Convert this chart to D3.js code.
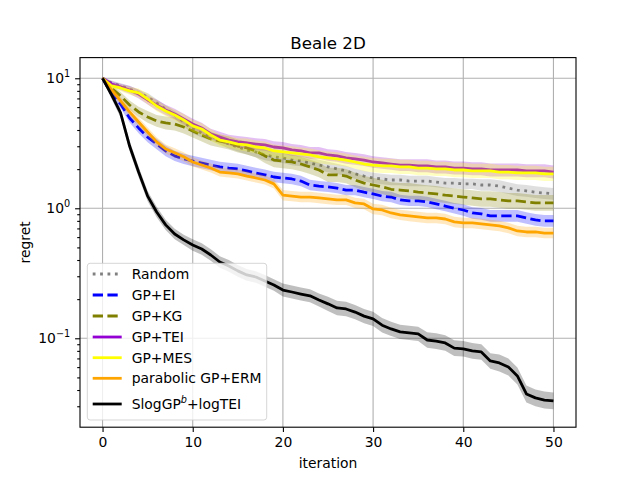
<!DOCTYPE html>
<html>
<head>
<meta charset="utf-8">
<script src="https://cdn.jsdelivr.net/npm/d3@7"></script>
<style>
  body { margin: 0; background: #fff; }
  svg { font-family: "DejaVu Sans", sans-serif; }
</style>
</head>
<body>
<script>
// iterations 0..50
var iterations = d3.range(0, 51);

// mean regret per method
var randomMean = [
  10.0, 9.20, 8.73, 8.27, 7.71, 7.18, 6.45, 5.80, 5.22, 4.61,
  4.07, 3.79, 3.60, 3.35, 3.12, 2.96, 2.81, 2.71, 2.57, 2.49,
  2.44, 2.35, 2.31, 2.23, 2.15, 2.08, 2.01, 1.94, 1.84, 1.77,
  1.71, 1.68, 1.65, 1.65, 1.62, 1.62, 1.62, 1.59, 1.56, 1.56,
  1.54, 1.54, 1.51, 1.51, 1.48, 1.43, 1.38, 1.36, 1.33, 1.31,
  1.29];
var eiMean = [
  10.0, 7.57, 6.34, 4.95, 4.15, 3.53, 3.12, 2.76, 2.53, 2.40,
  2.31, 2.23, 2.15, 2.08, 2.04, 2.01, 1.94, 1.87, 1.81, 1.74,
  1.71, 1.68, 1.62, 1.51, 1.48, 1.46, 1.43, 1.38, 1.38, 1.33,
  1.29, 1.24, 1.22, 1.16, 1.14, 1.14, 1.12, 1.08, 1.04, 1.00,
  0.970, 0.920, 0.904, 0.873, 0.873, 0.873, 0.873, 0.842, 0.813, 0.799,
  0.799];
var kgMean = [
  10.0, 8.42, 7.31, 6.23, 5.51, 5.04, 4.70, 4.53, 4.45, 4.22,
  3.93, 3.66, 3.41, 3.29, 3.18, 3.01, 2.91, 2.76, 2.53, 2.35,
  2.31, 2.27, 2.19, 2.08, 1.97, 1.81, 1.81, 1.77, 1.65, 1.56,
  1.51, 1.46, 1.40, 1.38, 1.36, 1.33, 1.31, 1.29, 1.26, 1.24,
  1.22, 1.20, 1.18, 1.18, 1.16, 1.14, 1.14, 1.12, 1.10, 1.10,
  1.10];
var teiMean = [
  10.0, 9.04, 8.58, 8.13, 7.57, 6.81, 6.23, 5.70, 5.31, 4.86,
  4.45, 4.15, 3.73, 3.53, 3.35, 3.24, 3.18, 3.12, 3.07, 2.96,
  2.91, 2.81, 2.76, 2.67, 2.67, 2.57, 2.53, 2.44, 2.40, 2.35,
  2.27, 2.23, 2.19, 2.15, 2.15, 2.12, 2.12, 2.08, 2.08, 2.04,
  2.04, 2.01, 2.01, 1.97, 1.97, 1.97, 1.97, 1.94, 1.94, 1.94,
  1.90];
var mesMean = [
  10.0, 8.73, 8.42, 7.99, 7.71, 6.93, 6.12, 5.60, 5.22, 4.78,
  4.30, 4.07, 3.66, 3.35, 3.24, 3.12, 3.07, 2.96, 2.91, 2.76,
  2.71, 2.67, 2.62, 2.57, 2.49, 2.44, 2.40, 2.35, 2.27, 2.19,
  2.15, 2.12, 2.12, 2.08, 2.08, 2.04, 2.04, 2.01, 2.01, 1.97,
  1.97, 1.94, 1.94, 1.94, 1.90, 1.90, 1.87, 1.87, 1.87, 1.84,
  1.84];
var ermMean = [
  10.0, 8.13, 6.69, 5.51, 4.61, 3.86, 3.24, 2.86, 2.67, 2.49,
  2.27, 2.15, 2.04, 1.90, 1.87, 1.84, 1.77, 1.71, 1.65, 1.54,
  1.26, 1.24, 1.22, 1.22, 1.20, 1.18, 1.16, 1.16, 1.10, 1.08,
  0.988, 0.970, 0.920, 0.889, 0.873, 0.857, 0.842, 0.842, 0.827, 0.785,
  0.771, 0.771, 0.757, 0.744, 0.731, 0.706, 0.669, 0.657, 0.657, 0.645,
  0.645];
var slogMean = [
  10.0, 7.45, 5.41, 3.01, 1.90, 1.24, 0.937, 0.745, 0.634, 0.571,
  0.522, 0.486, 0.437, 0.386, 0.360, 0.330, 0.307, 0.296, 0.276, 0.257,
  0.235, 0.227, 0.219, 0.212, 0.197, 0.184, 0.171, 0.168, 0.159, 0.148,
  0.141, 0.126, 0.118, 0.112, 0.110, 0.108, 0.097, 0.095, 0.092, 0.084,
  0.083, 0.080, 0.0785, 0.0669, 0.0646, 0.0601, 0.0513, 0.0373, 0.0348, 0.0335,
  0.0330];

// half width of the shaded band, in decades (log10)
var randomBand = [
  0.010, 0.020, 0.020, 0.025, 0.025, 0.030, 0.030, 0.030, 0.030, 0.035,
  0.035, 0.035, 0.035, 0.035, 0.035, 0.035, 0.035, 0.040, 0.040, 0.040,
  0.040, 0.040, 0.040, 0.040, 0.040, 0.040, 0.040, 0.040, 0.040, 0.040,
  0.040, 0.040, 0.040, 0.040, 0.040, 0.040, 0.040, 0.040, 0.040, 0.040,
  0.040, 0.040, 0.045, 0.045, 0.045, 0.045, 0.045, 0.045, 0.045, 0.045,
  0.045];
var eiBand = [
  0.010, 0.025, 0.030, 0.035, 0.040, 0.040, 0.040, 0.040, 0.040, 0.040,
  0.040, 0.040, 0.040, 0.040, 0.040, 0.040, 0.040, 0.040, 0.040, 0.040,
  0.040, 0.040, 0.040, 0.040, 0.040, 0.040, 0.040, 0.040, 0.040, 0.040,
  0.040, 0.040, 0.040, 0.040, 0.040, 0.040, 0.040, 0.040, 0.040, 0.040,
  0.045, 0.045, 0.045, 0.045, 0.045, 0.045, 0.045, 0.045, 0.045, 0.045,
  0.045];
var kgBand = [
  0.010, 0.025, 0.030, 0.035, 0.040, 0.045, 0.045, 0.050, 0.050, 0.050,
  0.050, 0.050, 0.050, 0.050, 0.050, 0.050, 0.050, 0.050, 0.055, 0.055,
  0.055, 0.055, 0.055, 0.055, 0.055, 0.055, 0.055, 0.055, 0.055, 0.055,
  0.055, 0.055, 0.055, 0.055, 0.060, 0.060, 0.060, 0.060, 0.060, 0.060,
  0.060, 0.060, 0.060, 0.060, 0.060, 0.060, 0.060, 0.060, 0.060, 0.060,
  0.060];
var teiBand = [
  0.010, 0.020, 0.025, 0.030, 0.035, 0.035, 0.040, 0.040, 0.040, 0.040,
  0.040, 0.040, 0.040, 0.040, 0.040, 0.045, 0.045, 0.045, 0.045, 0.045,
  0.045, 0.045, 0.045, 0.045, 0.045, 0.045, 0.045, 0.045, 0.045, 0.045,
  0.045, 0.045, 0.045, 0.045, 0.045, 0.050, 0.050, 0.050, 0.050, 0.050,
  0.050, 0.050, 0.050, 0.050, 0.050, 0.050, 0.050, 0.050, 0.050, 0.050,
  0.050];
var mesBand = [
  0.010, 0.020, 0.025, 0.030, 0.035, 0.040, 0.040, 0.040, 0.040, 0.045,
  0.045, 0.045, 0.045, 0.045, 0.045, 0.045, 0.050, 0.050, 0.050, 0.050,
  0.050, 0.050, 0.050, 0.050, 0.050, 0.050, 0.050, 0.050, 0.050, 0.055,
  0.055, 0.055, 0.055, 0.055, 0.055, 0.055, 0.055, 0.055, 0.055, 0.055,
  0.055, 0.055, 0.055, 0.055, 0.055, 0.055, 0.055, 0.055, 0.055, 0.055,
  0.055];
var ermBand = [
  0.010, 0.025, 0.030, 0.035, 0.035, 0.035, 0.035, 0.035, 0.035, 0.035,
  0.035, 0.035, 0.035, 0.035, 0.035, 0.035, 0.035, 0.035, 0.035, 0.035,
  0.040, 0.040, 0.040, 0.040, 0.040, 0.040, 0.040, 0.040, 0.040, 0.040,
  0.040, 0.040, 0.040, 0.040, 0.040, 0.040, 0.040, 0.040, 0.040, 0.040,
  0.040, 0.040, 0.040, 0.040, 0.040, 0.040, 0.040, 0.040, 0.040, 0.040,
  0.040];
var slogBand = [
  0.015, 0.030, 0.035, 0.040, 0.040, 0.040, 0.040, 0.040, 0.040, 0.040,
  0.045, 0.045, 0.045, 0.045, 0.045, 0.045, 0.045, 0.045, 0.045, 0.045,
  0.050, 0.050, 0.050, 0.050, 0.050, 0.055, 0.055, 0.055, 0.055, 0.055,
  0.055, 0.055, 0.055, 0.055, 0.055, 0.055, 0.060, 0.060, 0.060, 0.060,
  0.060, 0.060, 0.060, 0.060, 0.065, 0.065, 0.065, 0.065, 0.065, 0.065,
  0.065];

var xTicks = [0, 10, 20, 30, 40, 50];
var yTicks = [0.1, 1, 10];
var yTickExp = ["\u22121", "0", "1"];

var series = [
  {name: "Random", mean: randomMean, band: randomBand, color: "#808080", dash: "2.8,4.6"},
  {name: "GP+EI", mean: eiMean, band: eiBand, color: "#0000ff", dash: "10.3,4.4"},
  {name: "GP+KG", mean: kgMean, band: kgBand, color: "#808000", dash: "10.3,4.4"},
  {name: "GP+TEI", mean: teiMean, band: teiBand, color: "#9400d3", dash: null},
  {name: "GP+MES", mean: mesMean, band: mesBand, color: "#ffff00", dash: null},
  {name: "parabolic GP+ERM", mean: ermMean, band: ermBand, color: "#ffa500", dash: null},
  {name: "SlogGP", sup: "b", tail: "+logTEI", mean: slogMean, band: slogBand, color: "#000000", dash: null}
];

var W = 640, H = 480;
var axL = 80, axR = 576, axT = 57.6, axB = 427.2;

var svg = d3.select("body").append("svg")
  .attr("width", W).attr("height", H);

svg.append("rect").attr("width", W).attr("height", H).attr("fill", "#fff");

var x = d3.scaleLinear().domain([-2.5, 52.5]).range([axL, axR]);
var y = d3.scaleLog().domain([Math.pow(10, -1.684), Math.pow(10, 1.159)]).range([axB, axT]);

// grid
var grid = svg.append("g").attr("stroke", "#b0b0b0").attr("stroke-width", 1.1);
grid.selectAll(".gx").data(xTicks).enter().append("line")
  .attr("x1", function(d) { return x(d); }).attr("x2", function(d) { return x(d); })
  .attr("y1", axT).attr("y2", axB);
grid.selectAll(".gy").data(yTicks).enter().append("line")
  .attr("x1", axL).attr("x2", axR)
  .attr("y1", function(d) { return y(d); }).attr("y2", function(d) { return y(d); });

svg.append("clipPath").attr("id", "plot")
  .append("rect").attr("x", axL).attr("y", axT)
  .attr("width", axR - axL).attr("height", axB - axT);

var plot = svg.append("g").attr("clip-path", "url(#plot)");

series.forEach(function(s) {
  var area = d3.area()
    .x(function(d, i) { return x(iterations[i]); })
    .y0(function(d, i) { return y(d * Math.pow(10, -s.band[i])); })
    .y1(function(d, i) { return y(d * Math.pow(10, s.band[i])); });
  plot.append("path").datum(s.mean)
    .attr("d", area)
    .attr("fill", s.color).attr("fill-opacity", 0.25);

  var line = d3.line()
    .x(function(d, i) { return x(iterations[i]); })
    .y(function(d) { return y(d); });
  plot.append("path").datum(s.mean)
    .attr("d", line)
    .attr("fill", "none")
    .attr("stroke", s.color)
    .attr("stroke-width", 2.78)
    .attr("stroke-linejoin", "round")
    .attr("stroke-linecap", "butt")
    .attr("stroke-dasharray", s.dash);
});

// axes
var xAxis = svg.append("g").attr("transform", "translate(0," + axB + ")")
  .call(d3.axisBottom(x).tickValues(xTicks).tickSize(4.9).tickPadding(4.9).tickSizeOuter(0));
xAxis.select(".domain").remove();

var yAxis = svg.append("g").attr("transform", "translate(" + axL + ",0)")
  .call(d3.axisLeft(y).tickValues(yTicks).tickSize(4.9).tickPadding(4.9).tickSizeOuter(0)
    .tickFormat(function() { return ""; }));
yAxis.select(".domain").remove();
yAxis.selectAll(".tick text").each(function(d, i) {
  var t = d3.select(this);
  t.append("tspan").text("10");
  t.append("tspan").attr("dy", -6).attr("font-size", 9.7).text(yTickExp[i]);
});

var minor = [];
[-2, -1, 0, 1].forEach(function(k) {
  for (var m = 2; m <= 9; m++) {
    var v = m * Math.pow(10, k);
    if (v > y.domain()[0] && v < y.domain()[1]) minor.push(v);
  }
});
var yMinor = svg.append("g").attr("transform", "translate(" + axL + ",0)")
  .call(d3.axisLeft(y).tickValues(minor).tickSize(2.8).tickSizeOuter(0).tickFormat(function() { return ""; }));
yMinor.select(".domain").remove();

svg.selectAll(".tick line").attr("stroke", "#000").attr("stroke-width", 1.1);
svg.selectAll(".tick text").attr("font-family", "DejaVu Sans").attr("font-size", 13.9).attr("fill", "#000");

// frame
svg.append("rect").attr("x", axL).attr("y", axT)
  .attr("width", axR - axL).attr("height", axB - axT)
  .attr("fill", "none").attr("stroke", "#000").attr("stroke-width", 1.1);

// labels
svg.append("text").attr("x", (axL + axR) / 2).attr("y", 49)
  .attr("text-anchor", "middle").attr("font-size", 16.7).text("Beale 2D");
svg.append("text").attr("x", (axL + axR) / 2).attr("y", 467.5)
  .attr("text-anchor", "middle").attr("font-size", 13.9).text("iteration");
svg.append("text")
  .attr("transform", "translate(29.5," + ((axT + axB) / 2) + ") rotate(-90)")
  .attr("text-anchor", "middle").attr("font-size", 13.9).text("regret");

// legend
var lg = svg.append("g");
lg.append("rect").attr("x", 87.3).attr("y", 263.3).attr("width", 179.4).attr("height", 156.7)
  .attr("rx", 2.8).attr("fill", "#fff").attr("fill-opacity", 0.8)
  .attr("stroke", "#cccccc").attr("stroke-opacity", 0.8).attr("stroke-width", 1);
var rowY = [274, 295, 316, 337, 357.7, 378.3, 404];
series.forEach(function(s, i) {
  var yy = rowY[i];
  lg.append("line").attr("x1", 92.7).attr("x2", 121.7).attr("y1", yy).attr("y2", yy)
    .attr("stroke", s.color).attr("stroke-width", 2.78)
    .attr("stroke-linecap", "butt").attr("stroke-dasharray", s.dash);
  var t = lg.append("text").attr("x", 131.7).attr("y", yy).attr("dy", "0.36em")
    .attr("font-size", 13.9);
  t.append("tspan").text(s.name);
  if (s.sup) {
    t.append("tspan").attr("dy", -6).attr("font-size", 9.7).attr("font-style", "italic").text(s.sup);
    t.append("tspan").attr("dy", 6).text(s.tail);
  }
});
</script>
</body>
</html>
